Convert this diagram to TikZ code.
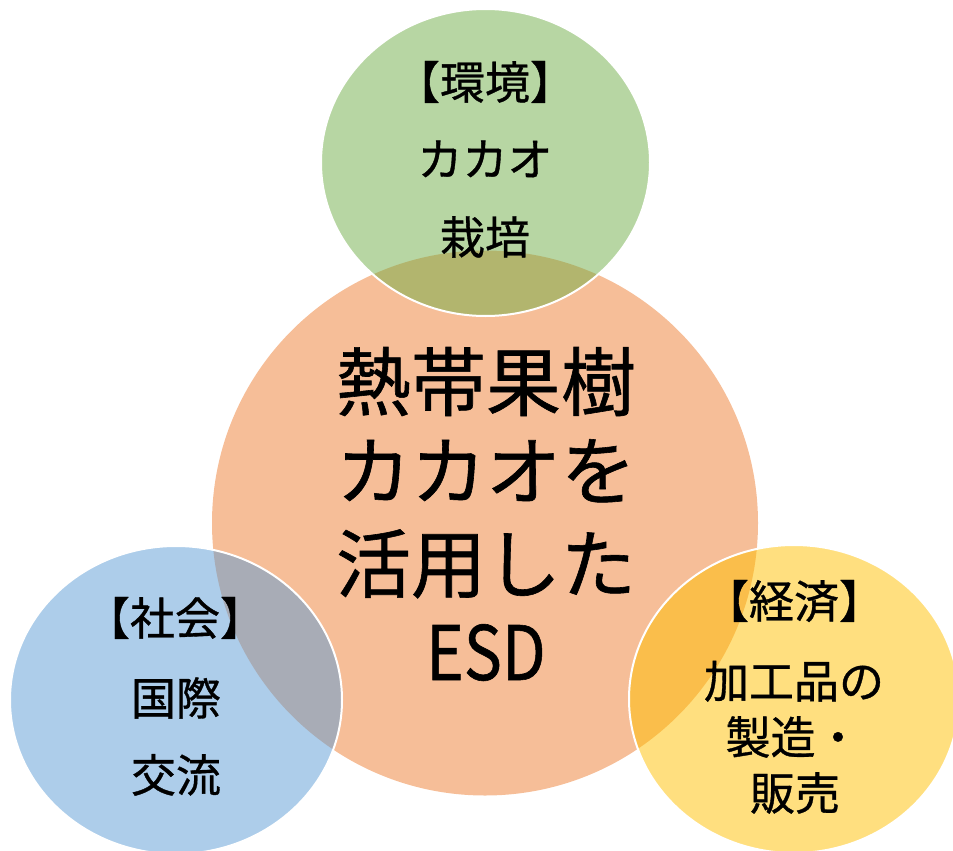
\documentclass[tikz,border=0pt]{standalone}
\usepackage{fontspec}
\usepackage{graphicx}
\newfontfamily\jp[FakeBold=0.8]{Noto Sans CJK JP}
\usetikzlibrary{shapes.geometric}
\definecolor{corange}{HTML}{ED7D31}
\definecolor{cgreen}{HTML}{70AD47}
\definecolor{cblue}{HTML}{5B9BD5}
\definecolor{cyellow}{HTML}{FFC000}
\begin{document}
\begin{tikzpicture}[x=1pt,y=-1pt,
  bubble/.style={ellipse, inner sep=0pt, outer sep=0pt, fill opacity=0.5},
  rimmed/.style={bubble, draw=white, line width=2pt},
  bigtext/.style={font=\jp\fontsize{75}{90}\selectfont, anchor=base, inner sep=0pt},
  smalltext/.style={font=\jp\fontsize{45}{54}\selectfont, anchor=base, inner sep=0pt}]
\useasboundingbox (0,0) rectangle (953,851);
% circles
\node[bubble, fill=corange, minimum width=546pt, minimum height=545pt] (core) at (485,523) {};
\node[rimmed, fill=cgreen, minimum width=329pt, minimum height=307pt] (env) at (485.5,162.5) {};
\node[rimmed, fill=cblue, minimum width=332pt, minimum height=308pt] (soc) at (176,700) {};
\node[rimmed, fill=cyellow, minimum width=330pt, minimum height=308pt] (eco) at (794,699) {};
% centre text
\node[bigtext] (c1) at (486,410) {熱帯果樹};
\node[bigtext] (c2) at (486,499) {カカオを};
\node[bigtext] (c3) at (486,592) {活用した};
\node[bigtext] (c4) at (486,680) {\scalebox{0.85}[1]{ESD}};
% environment
\node[smalltext] (e1) at (485,99) {【環境】};
\node[smalltext] (e2) at (485,176) {カカオ};
\node[smalltext] (e3) at (485,254) {栽培};
% society
\node[smalltext] (s1) at (175,635) {【社会】};
\node[smalltext] (s2) at (176,715) {国際};
\node[smalltext] (s3) at (176,792) {交流};
% economy
\node[smalltext] (k1) at (794,618) {【経済】};
\node[smalltext] (k2) at (794,698) {加工品の};
\node[smalltext] (k3) at (793,754) {製造・};
\node[smalltext] (k4) at (795,810) {販売};
\end{tikzpicture}
\end{document}
